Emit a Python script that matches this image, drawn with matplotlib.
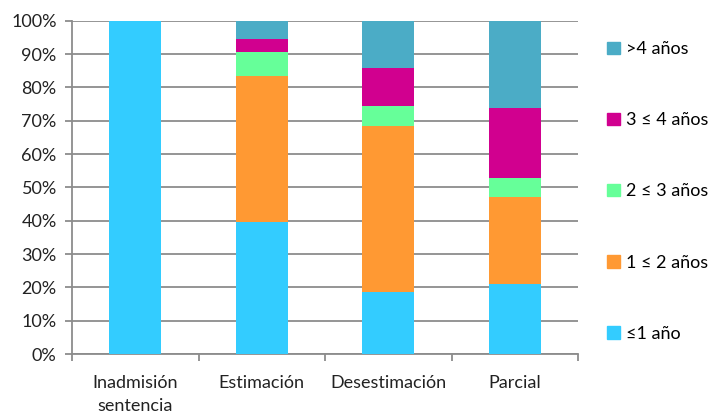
import numpy as np
import matplotlib.pyplot as plt
from matplotlib.patches import Patch

categories = ["Inadmisión\nsentencia", "Estimación", "Desestimación", "Parcial"]
series = ["≤1 año", "1 ≤ 2 años", "2 ≤ 3 años", "3 ≤ 4 años", ">4 años"]
le1 = [100.0, 39.7, 18.5, 21.0]
le2 = [0.0, 43.6, 49.9, 26.2]
le3 = [0.0, 7.4, 6.1, 5.5]
le4 = [0.0, 3.8, 11.2, 21.2]
gt4 = [0.0, 5.5, 14.3, 26.1]
colors = ["#33CCFF", "#FF9933", "#66FF99", "#D1008F", "#4BACC6"]

plt.rcParams['font.family'] = ['Lato', 'DejaVu Sans']
fs = 13

fig = plt.figure(figsize=(7.13, 4.17), dpi=100)
ax = fig.add_axes([0.101, 0.151, 0.710, 0.799])

x = np.arange(len(categories))
bottom = np.zeros(len(categories))
for vals, label, color in zip([le1, le2, le3, le4, gt4], series, colors):
    ax.bar(x, vals, 0.41, bottom=bottom, color=color, label=label, zorder=3)
    bottom += np.array(vals)

ax.set_xlim(-0.5, len(categories) - 0.5)
ax.set_ylim(0, 100)
ax.set_yticks(np.arange(0, 101, 10))
ax.set_yticklabels([f"{v}%" for v in range(0, 101, 10)], fontsize=fs, color="#222222")
ax.yaxis.grid(True, color="#8c8c8c", linewidth=1.3, zorder=0)

ax.set_xticks(x)
ax.set_xticklabels(categories, fontsize=fs, color="#222222", linespacing=1.55)
ax.set_xticks(np.arange(-0.5, len(categories)), minor=True)
ax.tick_params(axis='x', which='major', length=0, pad=15)
ax.tick_params(axis='x', which='minor', length=5, color="#8c8c8c", width=1.3)
ax.tick_params(axis='y', length=5, color="#8c8c8c", width=1.3, pad=6)

for s in ["top", "right"]:
    ax.spines[s].set_visible(False)
for s in ["left", "bottom"]:
    ax.spines[s].set_color("#8c8c8c")
    ax.spines[s].set_linewidth(1.3)

handles = [Patch(color=c, label=l) for c, l in zip(colors, series)][::-1]
ax.legend(handles=handles, loc="center left", bbox_to_anchor=(1.025, 0.488),
          frameon=False, fontsize=fs, labelspacing=3.05,
          handlelength=0.7, handleheight=0.7, handletextpad=0.35)

fig.savefig("out.png", dpi=100)
